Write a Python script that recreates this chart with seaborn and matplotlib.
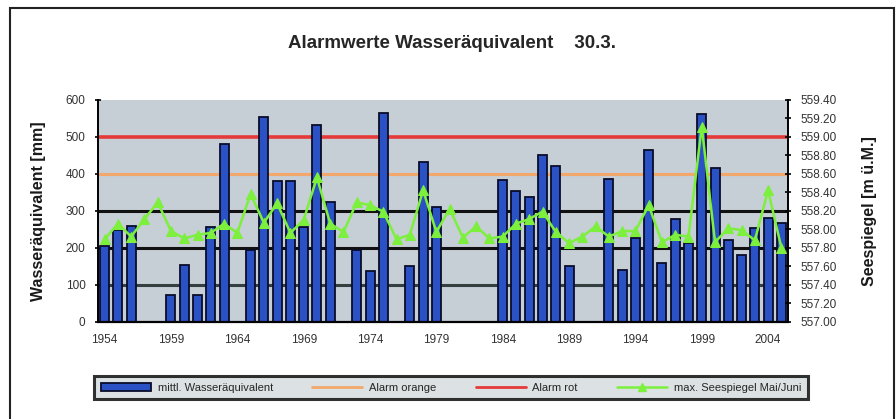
import numpy as np
import pandas as pd
import matplotlib
matplotlib.use('Agg')
import matplotlib.pyplot as plt
import seaborn as sns
from matplotlib.lines import Line2D
from matplotlib.patches import Patch, Rectangle

years = list(range(1954, 2006))
wasser = [205, 248, 258, np.nan, np.nan, 72, 152, 72, 255, 481,
          np.nan, 195, 553, 381, 380, 256, 531, 324, np.nan, 194,
          138, 565, np.nan, 151, 432, 310, np.nan, np.nan, np.nan, np.nan,
          384, 352, 336, 451, 420, 151, np.nan, np.nan, 387, 140,
          225, 464, 158, 277, 212, 561, 416, 221, 180, 252,
          279, 266]
seespiegel = [557.89, 558.06, 557.92, 558.11, 558.29, 557.98, 557.90, 557.94, 557.96, 558.06,
              557.96, 558.38, 558.07, 558.28, 557.96, 558.10, 558.56, 558.06, 557.97, 558.29,
              558.26, 558.19, 557.89, 557.94, 558.42, 557.97, 558.22, 557.91, 558.03, 557.90,
              557.92, 558.06, 558.11, 558.19, 557.97, 557.85, 557.92, 558.03, 557.92, 557.98,
              557.98, 558.26, 557.86, 557.94, 557.92, 559.11, 557.86, 558.01, 557.99, 557.88,
              558.42, 557.80]
alarm_orange = 400
alarm_rot = 500
label_years = list(range(1954, 2005, 5))

df = pd.DataFrame({'Jahr': years, 'Wasser': wasser, 'See': seespiegel})

sns.set_style('white')
plt.rcParams['font.family'] = ['Liberation Sans', 'DejaVu Sans']

fig = plt.figure(figsize=(8.96, 4.19), dpi=100)
ax = fig.add_axes([98 / 896, 1 - 321.7 / 419, 690 / 896, 222 / 419])
ax.set_facecolor('#c6ced6')

# gridlines + alarm levels
for v, c in [(100, '#34403f'), (200, '#111111'), (300, '#111111')]:
    ax.axhline(v, color=c, lw=2.2, zorder=1)
ax.axhline(alarm_orange, color='#f2a86a', lw=2.2, zorder=1.5)
ax.axhline(alarm_rot, color='#e63a3a', lw=2.6, zorder=1.5)

sns.barplot(data=df.dropna(subset=['Wasser']), x='Jahr', y='Wasser', native_scale=True,
            color='#2b52c4', saturation=1, width=0.68, edgecolor='#0a0d2a',
            linewidth=1.3, errorbar=None, ax=ax, zorder=2)

ax.set_xlim(1953.5, 2005.5)
ax.set_ylim(0, 600)
ax.set_yticks(range(0, 601, 100))
ax.set_xticks(label_years)
ax.set_xticks(np.arange(1953.5, 2006, 1), minor=True)
ax.tick_params(axis='x', which='major', length=0, labelsize=8.5, pad=9, colors='#333333')
ax.tick_params(axis='x', which='minor', length=4, direction='inout', width=1.2, color='black')
ax.tick_params(axis='y', length=4, direction='inout', width=1.2, labelsize=8.5,
               colors='#333333', pad=7)
ax.tick_params(axis='y', color='black')
ax.set_xlabel('')
ax.set_ylabel('Wasseräquivalent [mm]', fontsize=11.5, fontweight='bold', labelpad=14,
              color='#1a1a1a')
for s in ['top', 'right']:
    ax.spines[s].set_visible(False)
ax.spines['left'].set_color('black')
ax.spines['left'].set_linewidth(1.4)
ax.spines['bottom'].set_color('black')
ax.spines['bottom'].set_linewidth(1.6)

ax2 = ax.twinx()
sns.lineplot(data=df, x='Jahr', y='See', color='#7cf03c', lw=1.8, marker='^',
             markersize=6.5, markeredgecolor='#7cf03c', ax=ax2)
ax2.set_ylim(557.0, 559.4)
ticks_r = np.arange(557.0, 559.41, 0.2)
ax2.set_yticks(ticks_r)
ax2.set_yticklabels([f'{v:.2f}' for v in ticks_r])
ax2.tick_params(axis='y', length=4, direction='inout', width=1.2, labelsize=8.5,
                colors='#333333', pad=7)
ax2.tick_params(axis='y', color='black')
ax2.set_ylabel('Seespiegel [m ü.M.]', fontsize=11.5, fontweight='bold', labelpad=18,
               color='#1a1a1a')
ax2.set_xlabel('')
for s in ['top', 'left', 'bottom']:
    ax2.spines[s].set_visible(False)
ax2.spines['right'].set_color('black')
ax2.spines['right'].set_linewidth(1.4)

fig.suptitle('Alarmwerte Wasseräquivalent    30.3.', x=452 / 896, y=1 - 35 / 419,
             fontsize=13.5, fontweight='bold')

handles = [Patch(facecolor='#2b52c4', edgecolor='#0a0d2a', lw=1.3),
           Line2D([], [], color='#f2a86a', lw=2),
           Line2D([], [], color='#e63a3a', lw=2),
           Line2D([], [], color='#7cf03c', lw=1.8, marker='^', markersize=6)]
labels = ['mittl. Wasseräquivalent', 'Alarm orange', 'Alarm rot', 'max. Seespiegel Mai/Juni']
leg = fig.legend(handles, labels, loc='center', bbox_to_anchor=(451 / 896, 1 - 387.5 / 419),
                 ncol=4, fontsize=8, frameon=True, fancybox=False, handlelength=4.5,
                 handletextpad=0.6, columnspacing=3.55, borderpad=0.6)
leg.get_frame().set_edgecolor('black')
leg.get_frame().set_linewidth(2.2)
leg.get_frame().set_facecolor('#d4dadc')

fig.patches.append(Rectangle((10 / 896, -0.05), 884 / 896, 1.05 - 8 / 419,
                             transform=fig.transFigure, fill=False, edgecolor='#222222',
                             lw=1.5, zorder=0))

fig.savefig('out.png', dpi=100)
